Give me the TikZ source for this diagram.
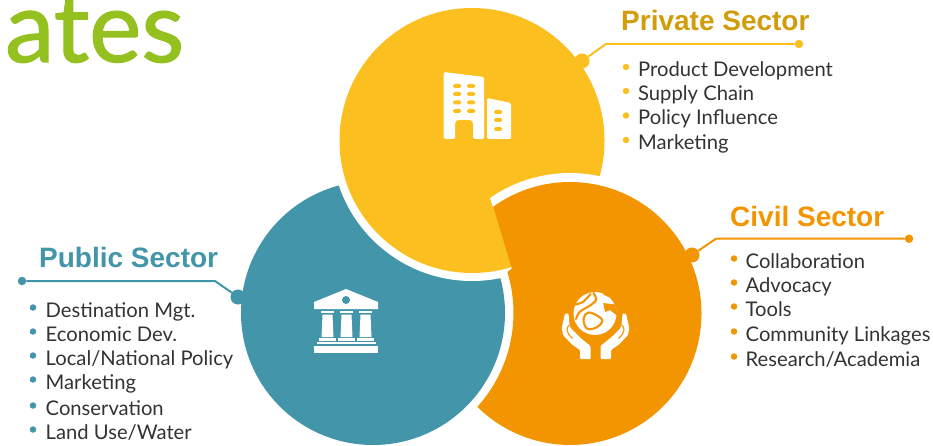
\documentclass[tikz,border=0pt]{standalone}
\usepackage{fontspec}
\setmainfont{Lato}
\newfontfamily\headfont{Liberation Sans}
\newfontfamily\logofont[FakeBold=1.2]{Lato}
\definecolor{yel}{HTML}{FBBF1F}
\definecolor{tea}{HTML}{4395A9}
\definecolor{ora}{HTML}{F39401}
\definecolor{goldt}{HTML}{D19D0A}
\definecolor{grn}{HTML}{94C11F}
\definecolor{ink}{HTML}{333333}
\tikzset{x=1pt,y=-1pt,
 head/.style={anchor=base west,inner sep=0pt,font=\headfont\bfseries\fontsize{28}{30}\selectfont},
 item/.style={anchor=base west,inner sep=0pt,text=ink,font=\fontsize{20.2}{22}\selectfont},
 bul/.style={circle,inner sep=0pt,minimum size=6.5pt},
 hub/.style={circle,inner sep=0pt,minimum size=15pt},
 tip/.style={circle,inner sep=0pt,minimum size=8.5pt},
 lead/.style={line width=2pt},
 land/.style={draw=ora,line width=2.1pt,line cap=round,line join=round}}
\begin{document}
\begin{tikzpicture}
\useasboundingbox (0,0) rectangle (933,446);
\clip (0,0) rectangle (933,446);
\fill[white] (0,0) rectangle (933,446);
% discs
\fill[tea] (373,313) circle (132);
\fill[white] (472,140.5) circle (140.5);
\fill[yel] (472,140.5) circle (132.5);
% white rim of the orange disc over the yellow one
\fill[white] (490,198) arc[start angle=-124.7,end angle=-60,radius=140.5] -- (600,250) -- (492.6,206.5) -- cycle;
% orange disc: cut by the teal rim and by the yellow wedge
\fill[ora] (570,313.5) ++(-125.7:131.5) arc[start angle=-125.7,end angle=134.8,radius=131.5]
  arc[start angle=42.1,end angle=-17,radius=140] -- (511.8,268.5) -- cycle;
% logo
\node[anchor=base west,inner sep=0pt,text=grn,font=\logofont\fontsize{99}{100}\selectfont] (logo) at (5,62) {ates};
% leaders
\node[hub,fill=yel] (pd) at (582,61) {};
\node[tip,fill=yel] (pe) at (799,44) {};
\coordinate (pk) at (606,44);
\draw[lead,yel] (pd) -- (pk) -- (pe);
\node[hub,fill=ora] (cd) at (692,255) {};
\node[tip,fill=ora] (ce) at (909,238.7) {};
\coordinate (ck) at (716,238.7);
\draw[lead,ora] (cd) -- (ck) -- (ce);
\node[hub,fill=tea] (td) at (238,297) {};
\node[tip,fill=tea] (te) at (22,281) {};
\coordinate (tk) at (215,281);
\draw[lead,tea] (td) -- (tk) -- (te);
% titles
\node[head,text=goldt] (pt) at (621,31) {Private Sector};
\node[head,text=ora] (ct) at (730,226) {Civil Sector};
\node[head,text=tea] (tt) at (39,267) {Public Sector};
% lists
\foreach \n/\b/\t in {1/76.5/Product Development,2/100.5/Supply Chain,3/125/Policy Influence,4/149.5/Marketing}{
 \node[item] (p\n) at (638,\b) {\t};
 \node[bul,fill=yel] (pb\n) at (626,\b-9.5) {};
}
\foreach \n/\b/\t in {1/268/Collaboration,2/292/Advocacy,3/316/Tools,4/341/Community Linkages,5/366/{Research/Academia}}{
 \node[item] (c\n) at (745.5,\b) {\t};
 \node[bul,fill=ora] (cb\n) at (734,\b-9.5) {};
}
\foreach \n/\b/\t in {1/317/Destination Mgt.,2/341/Economic Dev.,3/365/{Local/National Policy},4/389/Marketing,5/415/Conservation,6/439/{Land Use/Water}}{
 \node[item] (t\n) at (45.5,\b) {\t};
 \node[bul,fill=tea] (tb\n) at (33,\b-9.5) {};
}
% building icon
\fill[white,rounded corners=1.5pt] (443.5,72) -- (484,77) -- (484,139) -- (473,139) -- (473,125) .. controls (473,121) and (471,120) .. (468,120) -- (460,120) .. controls (457,120) and (455,121) .. (455,125) -- (455,139) -- (443.5,139) -- cycle;
\fill[white,rounded corners=1.5pt] (487,98) -- (511,103) -- (511,139) -- (487,139) -- cycle;
\foreach \y in {86,94,102.5,111}\foreach \x in {457,471}
 \fill[yel,rounded corners=1.5pt] (\x-4,\y-2) rectangle (\x+4,\y+2);
\foreach \y in {112,120,129}
 \fill[yel,rounded corners=1.5pt] (498-4,\y-2) rectangle (498+4,\y+2);
% bank icon
\fill[white] (314,302) -- (346,289) -- (378,302) -- (378,309) -- (314,309) -- cycle;
\fill[tea] (346,300) circle (4);
\foreach \x in {327.5,346.5,365.5}{
 \fill[white] (\x-6.5,311) rectangle (\x+6.5,313);
 \fill[white] (\x-5,314.5) -- (\x+5,314.5) -- (\x+6,337) -- (\x-6,337) -- cycle;
 \fill[white] (\x-8.5,338.3) rectangle (\x+8.5,340.5);
}
\fill[white] (317,342.3) rectangle (376,344);
\fill[white] (314,346) rectangle (378,352.5);
% globe-and-hands icon
\fill[white] (595,313.5) circle (21.5);
\draw[land,fill=white] plot[smooth cycle,tension=.7] coordinates {(583.8,318) (588.3,312.5) (598.3,316.3) (602.3,321.3) (596.7,327.3) (588.3,329.2) (584.5,324.7)};
\draw[land] plot[smooth,tension=.6] coordinates {(575.5,304.5) (583.3,301.7) (590.5,294)};
\draw[land] plot[smooth,tension=.6] coordinates {(593.5,293) (596,300) (588.3,306.7) (580,311.5) (576,319)};
\fill[ora] (603.3,303) -- (615,304.5) -- (617.5,316) -- (610,310) -- (605,312) -- cycle;
\draw[land,line width=1.6pt] (603.5,293.5) -- (608,296);
\foreach \s/\o in {1/0,-1/1191}{
 \begin{scope}[shift={(\o,0)},xscale=\s]
  \fill[white,rounded corners=1pt] (565,313.5) -- (568.5,313.5) -- (569.5,325) -- (571,328.5) -- (580,337.5) -- (590.5,346) -- (590.5,359) -- (580,359) -- (580,350) -- (572,344.5) -- (563,335) -- (561.7,328) -- cycle;
  \draw[ora,line width=1.1pt] (569.3,325) .. controls (566,328) and (565.5,332) .. (572.5,338.5);
 \end{scope}
}
\end{tikzpicture}
\end{document}
